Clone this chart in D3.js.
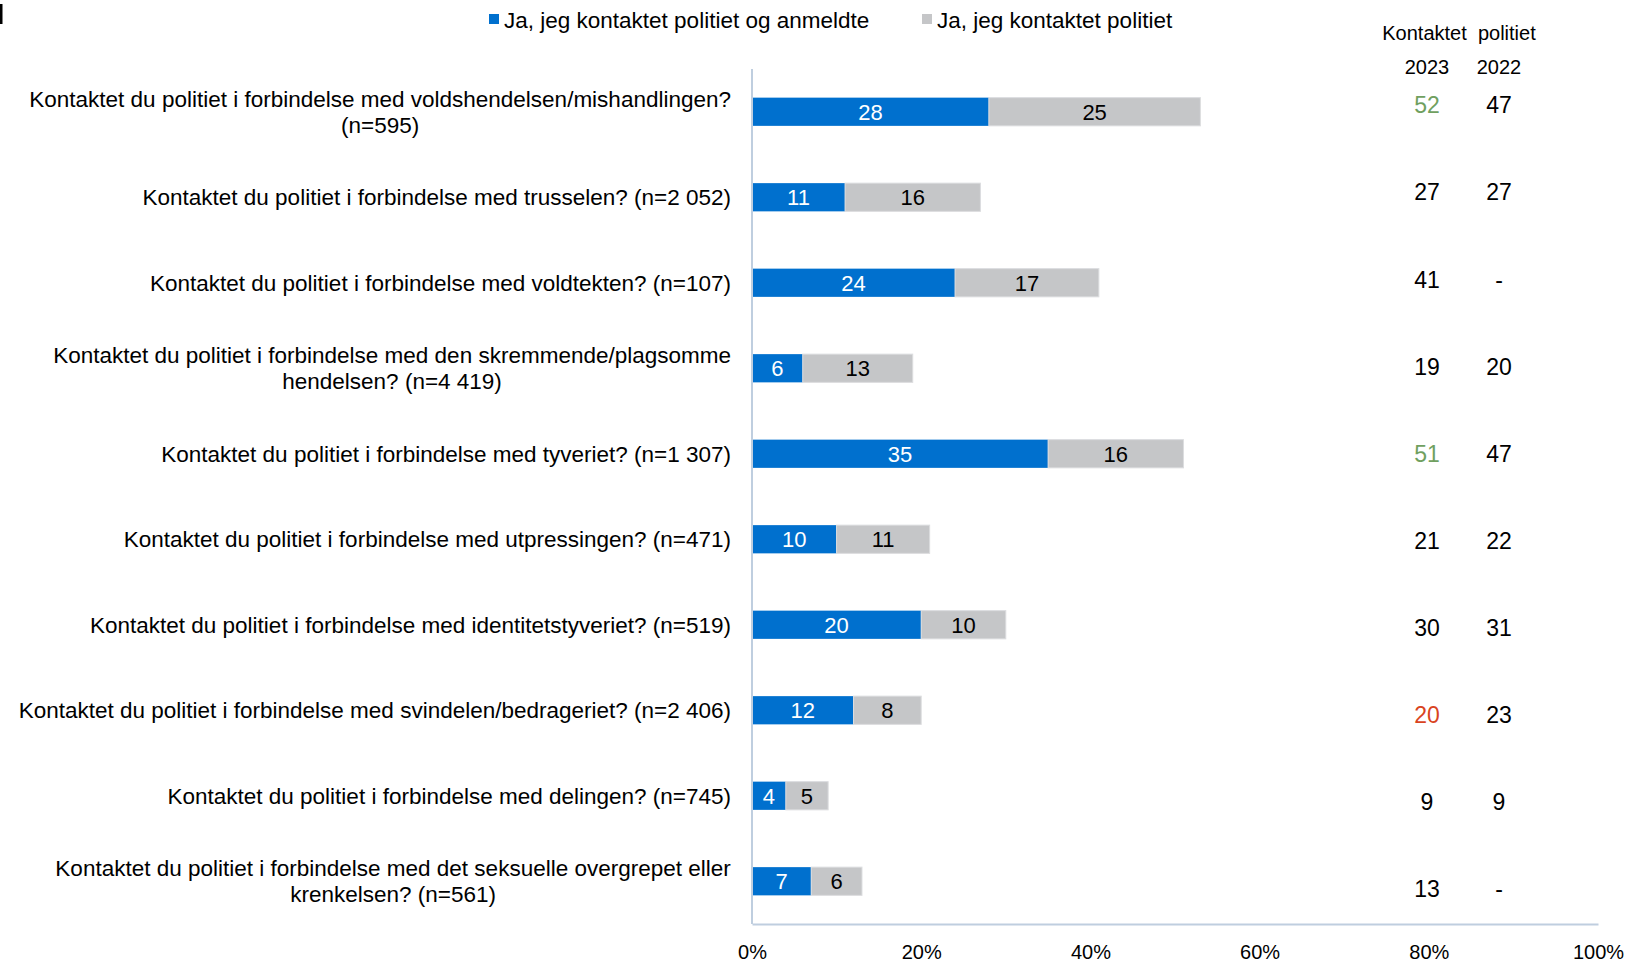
<!DOCTYPE html>
<html><head><meta charset="utf-8">
<script src="https://cdn.jsdelivr.net/npm/d3@7"></script>
<style>body{margin:0;background:#fff}svg{display:block;font-family:"Liberation Sans",Arial,sans-serif}</style>
</head><body><svg id="c" width="1630" height="962"></svg>
<script>
const categories = [
  ["Kontaktet du politiet i forbindelse med voldshendelsen/mishandlingen?", "(n=595)"],
  ["Kontaktet du politiet i forbindelse med trusselen? (n=2 052)"],
  ["Kontaktet du politiet i forbindelse med voldtekten? (n=107)"],
  ["Kontaktet du politiet i forbindelse med den skremmende/plagsomme", "hendelsen? (n=4 419)"],
  ["Kontaktet du politiet i forbindelse med tyveriet? (n=1 307)"],
  ["Kontaktet du politiet i forbindelse med utpressingen? (n=471)"],
  ["Kontaktet du politiet i forbindelse med identitetstyveriet? (n=519)"],
  ["Kontaktet du politiet i forbindelse med svindelen/bedrageriet? (n=2 406)"],
  ["Kontaktet du politiet i forbindelse med delingen? (n=745)"],
  ["Kontaktet du politiet i forbindelse med det seksuelle overgrepet eller", "krenkelsen? (n=561)"]
];
const reported = [28, 11, 24, 6, 35, 10, 20, 12, 4, 7];
const contacted = [25, 16, 17, 13, 16, 11, 10, 8, 5, 6];
const total2023 = ["52", "27", "41", "19", "51", "21", "30", "20", "9", "13"];
const total2022 = ["47", "27", "-", "20", "47", "22", "31", "23", "9", "-"];
const change2023 = ["up", "", "", "", "up", "", "", "down", "", ""];
const seriesNames = ["Ja, jeg kontaktet politiet og anmeldte", "Ja, jeg kontaktet politiet"];
const xTicks = [0, 20, 40, 60, 80, 100];
const tableHeader = ["Kontaktet  politiet"];
const tableYears = ["2023", "2022"];

(function () {
const svg = d3.select("#c");
const colors = ["#0070CE", "#C5C6C8"];
const changeColor = {up: "#70A060", down: "#D9441E", "": "#000"};
const mL = 752, mR = 1598, mT = 69, mB = 924;
const fs = 22.5;

const x = d3.scaleLinear().domain([0, 100]).range([mL, mR]);
const y = d3.scaleBand().domain(d3.range(categories.length)).range([mT, mB]).paddingInner(0.67).paddingOuter(0.335);

const stacked = categories.map((c, i) => [
  {s: 0, x0: 0, x1: reported[i], v: reported[i], i},
  {s: 1, x0: reported[i], x1: reported[i] + contacted[i], v: contacted[i], i}
]).flat();

svg.append("g").selectAll("rect").data(stacked).join("rect")
  .attr("x", d => x(d.x0)).attr("width", d => x(d.x1) - x(d.x0))
  .attr("y", d => y(d.i)).attr("height", y.bandwidth())
  .attr("fill", d => colors[d.s])
  .attr("stroke", d => d.s === 0 ? "none" : "#DCDDDF").attr("stroke-width", 1);

svg.append("g").selectAll("text").data(stacked).join("text")
  .attr("x", d => (x(d.x0) + x(d.x1)) / 2).attr("y", d => y(d.i) + y.bandwidth() / 2)
  .attr("dy", "0.36em").attr("text-anchor", "middle").attr("font-size", 22)
  .attr("fill", d => d.s === 0 ? "#fff" : "#000").text(d => d.v);

const axisCol = "#BFCEDF";
svg.append("line").attr("x1", mL).attr("x2", mL).attr("y1", mT).attr("y2", mB).attr("stroke", axisCol).attr("stroke-width", 2);
const xAxis = d3.axisBottom(x).tickValues(xTicks).tickFormat(d => d + "%").tickSize(0).tickPadding(21);
const gx = svg.append("g").attr("transform", `translate(0,${mB})`).call(xAxis);
gx.select(".domain").attr("stroke", axisCol).attr("stroke-width", 2);
gx.selectAll("text").attr("font-size", 20).attr("fill", "#000").attr("font-family", "Liberation Sans, Arial, sans-serif");

const lab = svg.append("g").selectAll("text").data(categories).join("text")
  .attr("text-anchor", "middle").attr("font-size", fs).attr("fill", "#000")
  .attr("transform", (d, i) => `translate(${731},${y(i) + y.bandwidth() / 2})`);
lab.each(function(lines) {
  const t = d3.select(this);
  const n = lines.length;
  lines.forEach((l, k) => {
    t.append("tspan").attr("x", 0).attr("y", (k - (n - 1) / 2) * 26).attr("dy", "0.36em").text(l);
  });
});
lab.each(function() {
  const bb = this.getBBox();
  d3.select(this).selectAll("tspan").attr("x", -bb.width / 2);
});

const leg = svg.append("g");
const legX = [489, 922];
seriesNames.forEach((s, k) => {
  leg.append("rect").attr("x", legX[k]).attr("y", 14).attr("width", 10).attr("height", 10).attr("fill", colors[k]);
  leg.append("text").attr("x", legX[k] + 15).attr("y", 20).attr("dy", "0.36em").attr("font-size", fs).text(s);
});

const colX = [1427, 1499];
svg.append("text").attr("x", 1459).attr("y", 33).attr("dy", "0.36em").attr("text-anchor", "middle").attr("font-size", 20).style("white-space", "pre").text(tableHeader[0]);
tableYears.forEach((yr, k) => {
  svg.append("text").attr("x", colX[k]).attr("y", 66.5).attr("dy", "0.36em").attr("text-anchor", "middle").attr("font-size", 20).text(yr);
});
const ty = d3.scaleLinear().domain([0, categories.length - 1]).range([105, 889]);
svg.append("g").selectAll("text").data(total2023).join("text")
  .attr("x", colX[0]).attr("y", (d, i) => ty(i)).attr("dy", "0.36em").attr("text-anchor", "middle")
  .attr("font-size", 23).attr("fill", (d, i) => changeColor[change2023[i]]).text(d => d);
svg.append("g").selectAll("text").data(total2022).join("text")
  .attr("x", colX[1]).attr("y", (d, i) => ty(i)).attr("dy", "0.36em").attr("text-anchor", "middle")
  .attr("font-size", 23).attr("fill", "#000").text(d => d);

svg.append("rect").attr("x", 0).attr("y", 4).attr("width", 2.5).attr("height", 20).attr("fill", "#000");
})();
</script></body></html>
